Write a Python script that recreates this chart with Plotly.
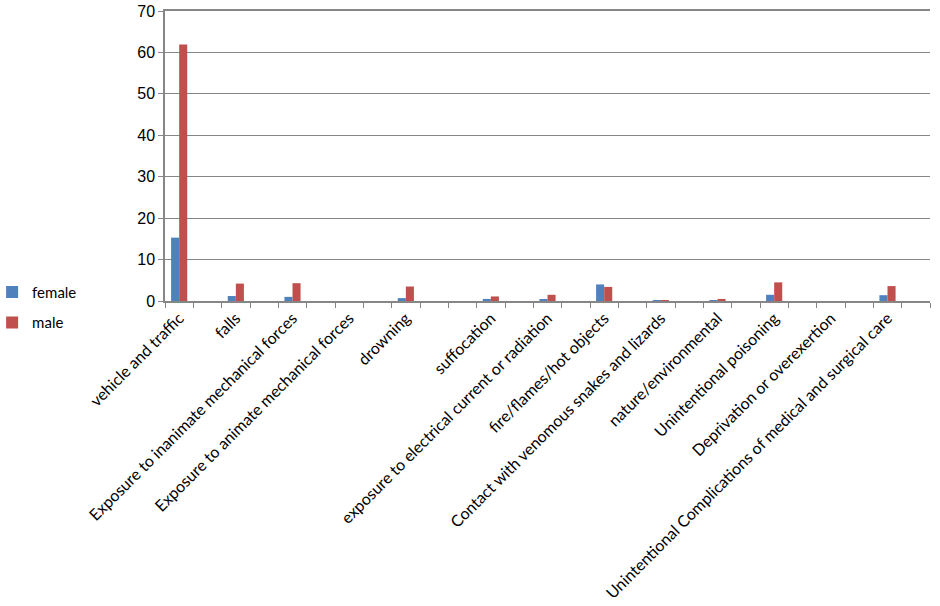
import plotly.graph_objects as go

# 27 category slots, labels only on every other slot (as in the source sheet)
categorias = [
    "vehicle and traffic", "", "falls", "",
    "Exposure to inanimate mechanical forces", "",
    "Exposure to animate mechanical forces", "", "drowning", "", "",
    "suffocation", "", "exposure to electrical current or radiation", "",
    "fire/flames/hot objects", "", "Contact with venomous snakes and lizards", "",
    "nature/environmental", "", "Unintentional poisoning", "",
    "Deprivation or overexertion", "",
    "Unintentional Complications of medical and surgical care", "",
]
female = [15.3, 0, 1.2, 0, 1.0, 0, 0, 0, 0.7, 0, 0, 0.5, 0, 0.3, 0,
          4.0, 0, 0.15, 0, 0.05, 0, 1.5, 0, 0, 0, 1.4, 0]
male = [61.9, 0, 4.2, 0, 4.3, 0, 0, 0, 3.5, 0, 0, 1.1, 0, 1.5, 0,
        3.4, 0, 0.15, 0, 0.5, 0, 4.5, 0, 0, 0, 3.6, 0]

# claves unicas para el eje categorico (los huecos se vuelven espacios)
claves = [c if c else " " * (i + 1) for i, c in enumerate(categorias)]

AZUL = "#4F81BD"
ROJO = "#C0504D"
GRIS = "#868686"
FUENTE = "Lato, 'Open Sans', sans-serif"

fig = go.Figure()
fig.add_trace(go.Bar(
    name="female", x=claves, y=female, legendgroup="f",
    marker=dict(color=AZUL, line=dict(width=0)),
))
fig.add_trace(go.Bar(
    name="male", x=claves, y=male, legendgroup="m",
    marker=dict(color=ROJO, line=dict(width=0)),
))

fig.update_layout(
    width=940, height=606,
    margin=dict(l=165, r=10, t=11, b=305, autoexpand=False),
    plot_bgcolor="white", paper_bgcolor="white",
    barmode="group", bargap=0.43, bargroupgap=0,
    font=dict(family=FUENTE, size=15, color="#000000"),
    legend=dict(
        x=-0.226, y=-0.13, xanchor="left", yanchor="bottom",
        font=dict(size=15), tracegroupgap=8, itemwidth=30,
    ),
)
fig.update_xaxes(
    type="category", tickangle=-45, tickson="boundaries", automargin=False,
    ticks="outside", ticklen=5, tickcolor=GRIS,
    showline=True, linecolor=GRIS, linewidth=1.5, mirror=True,
    showgrid=False,
    tickfont=dict(family=FUENTE, size=16),
)
fig.update_yaxes(
    range=[0, 70], dtick=10, automargin=False, ticklabeloverflow="allow",
    ticks="outside", ticklen=5, tickcolor=GRIS,
    showline=True, linecolor=GRIS, linewidth=1.5,
    showgrid=True, gridcolor=GRIS, gridwidth=1.2, zeroline=False,
    tickfont=dict(family="Liberation Sans, Arial, sans-serif", size=16),
)

# quitar el margen por defecto del body para que el grafico quede en 0,0
fig.write_html(
    "out.html",
    config={"displayModeBar": False},
    post_script="document.body.style.margin = '0';",
)
